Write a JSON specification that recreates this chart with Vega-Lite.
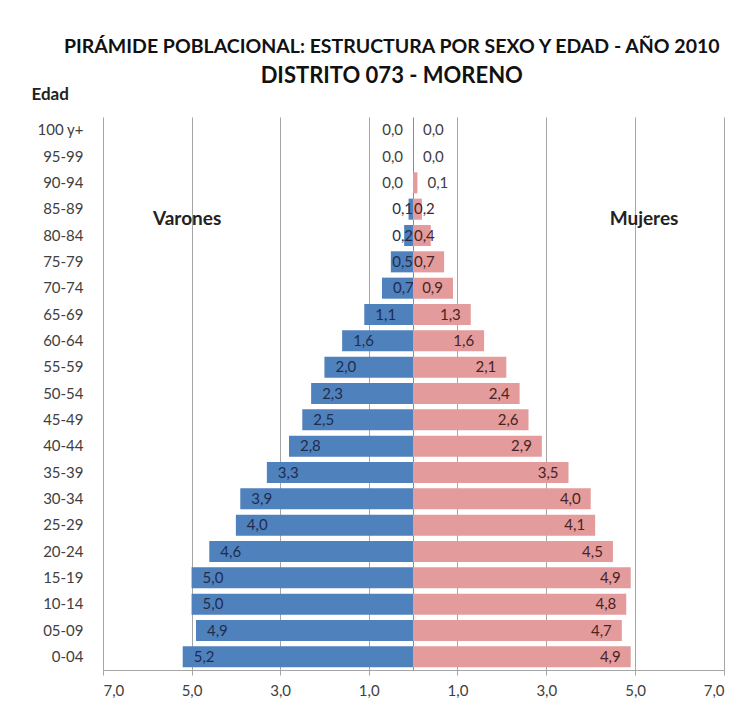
{
  "$schema": "https://vega.github.io/schema/vega-lite/v6.json",
  "padding": {"left": 31, "top": 36, "right": 5, "bottom": 5},
  "title": {
    "text": "PIRÁMIDE POBLACIONAL:  ESTRUCTURA POR SEXO Y EDAD - AÑO 2010",
    "subtitle": "DISTRITO 073 - MORENO",
    "font": "Lato", "fontSize": 19.5, "fontWeight": "bold", "color": "#111111",
    "subtitleFont": "Lato", "subtitleFontSize": 22, "subtitleFontWeight": "bold", "subtitleColor": "#111111",
    "subtitlePadding": 9, "anchor": "middle", "offset": -3, "dx": 14
  },
  "data": {"values": [
    {"edad": "100 y+", "sexo": "Varones", "valor": 0.0}, {"edad": "100 y+", "sexo": "Mujeres", "valor": 0.0},
    {"edad": "95-99", "sexo": "Varones", "valor": 0.0}, {"edad": "95-99", "sexo": "Mujeres", "valor": 0.0},
    {"edad": "90-94", "sexo": "Varones", "valor": 0.0}, {"edad": "90-94", "sexo": "Mujeres", "valor": 0.1},
    {"edad": "85-89", "sexo": "Varones", "valor": 0.1}, {"edad": "85-89", "sexo": "Mujeres", "valor": 0.2},
    {"edad": "80-84", "sexo": "Varones", "valor": 0.2}, {"edad": "80-84", "sexo": "Mujeres", "valor": 0.4},
    {"edad": "75-79", "sexo": "Varones", "valor": 0.5}, {"edad": "75-79", "sexo": "Mujeres", "valor": 0.7},
    {"edad": "70-74", "sexo": "Varones", "valor": 0.7}, {"edad": "70-74", "sexo": "Mujeres", "valor": 0.9},
    {"edad": "65-69", "sexo": "Varones", "valor": 1.1}, {"edad": "65-69", "sexo": "Mujeres", "valor": 1.3},
    {"edad": "60-64", "sexo": "Varones", "valor": 1.6}, {"edad": "60-64", "sexo": "Mujeres", "valor": 1.6},
    {"edad": "55-59", "sexo": "Varones", "valor": 2.0}, {"edad": "55-59", "sexo": "Mujeres", "valor": 2.1},
    {"edad": "50-54", "sexo": "Varones", "valor": 2.3}, {"edad": "50-54", "sexo": "Mujeres", "valor": 2.4},
    {"edad": "45-49", "sexo": "Varones", "valor": 2.5}, {"edad": "45-49", "sexo": "Mujeres", "valor": 2.6},
    {"edad": "40-44", "sexo": "Varones", "valor": 2.8}, {"edad": "40-44", "sexo": "Mujeres", "valor": 2.9},
    {"edad": "35-39", "sexo": "Varones", "valor": 3.3}, {"edad": "35-39", "sexo": "Mujeres", "valor": 3.5},
    {"edad": "30-34", "sexo": "Varones", "valor": 3.9}, {"edad": "30-34", "sexo": "Mujeres", "valor": 4.0},
    {"edad": "25-29", "sexo": "Varones", "valor": 4.0}, {"edad": "25-29", "sexo": "Mujeres", "valor": 4.1},
    {"edad": "20-24", "sexo": "Varones", "valor": 4.6}, {"edad": "20-24", "sexo": "Mujeres", "valor": 4.5},
    {"edad": "15-19", "sexo": "Varones", "valor": 5.0}, {"edad": "15-19", "sexo": "Mujeres", "valor": 4.9},
    {"edad": "10-14", "sexo": "Varones", "valor": 5.0}, {"edad": "10-14", "sexo": "Mujeres", "valor": 4.8},
    {"edad": "05-09", "sexo": "Varones", "valor": 4.9}, {"edad": "05-09", "sexo": "Mujeres", "valor": 4.7},
    {"edad": "0-04", "sexo": "Varones", "valor": 5.2}, {"edad": "0-04", "sexo": "Mujeres", "valor": 4.9}
  ]},
  "spacing": 0,
  "bounds": "flush",
  "hconcat": [
    {
      "width": 310, "height": 553,
      "transform": [{"filter": {"field": "sexo", "equal": "Varones"}}],
      "encoding": {
        "y": {"field": "edad", "type": "nominal", "sort": null,
          "scale": {"paddingInner": 0.2, "paddingOuter": 0.1},
          "axis": {"title": "Edad", "titleAngle": 0, "titleX": -72, "titleY": -18, "titleAlign": "left", "titleBaseline": "alphabetic",
            "titleFont": "Lato", "titleFontSize": 17, "titleFontWeight": "bold", "titleColor": "#222222",
            "labelFont": "Lato", "labelFontSize": 15, "labelColor": "#404040", "labelPadding": 20,
            "ticks": false, "domain": false, "grid": false}}
      },
      "layer": [
        {"mark": {"type": "bar", "color": "#4F81BD"},
         "encoding": {"x": {"field": "valor", "type": "quantitative", "scale": {"domain": [0, 7], "reverse": true},
           "axis": {"values": [1, 3, 5, 7], "format": ".1f", "title": null}}}},
        {"transform": [{"filter": {"not": {"field": "edad", "oneOf": ["100 y+", "95-99", "90-94", "85-89", "80-84", "75-79"]}}}],
         "mark": {"type": "text", "align": "left", "baseline": "middle", "dx": 11, "font": "Lato", "fontSize": 15, "color": "#1F2D4D"},
         "encoding": {"x": {"field": "valor", "type": "quantitative"}, "text": {"field": "valor", "type": "quantitative", "format": ".1f"}}},
        {"transform": [{"filter": {"field": "edad", "oneOf": ["85-89", "80-84", "75-79"]}}],
         "mark": {"type": "text", "align": "right", "baseline": "middle", "dx": 0, "font": "Lato", "fontSize": 15, "color": "#1F2D4D"},
         "encoding": {"x": {"datum": 0, "type": "quantitative"}, "text": {"field": "valor", "type": "quantitative", "format": ".1f"}}},
        {"transform": [{"filter": {"field": "edad", "oneOf": ["100 y+", "95-99", "90-94"]}}],
         "mark": {"type": "text", "align": "right", "baseline": "middle", "dx": -10, "font": "Lato", "fontSize": 15, "color": "#404040"},
         "encoding": {"x": {"field": "valor", "type": "quantitative"}, "text": {"field": "valor", "type": "quantitative", "format": ".1f"}}},
        {"transform": [{"filter": {"field": "edad", "equal": "85-89"}}],
         "mark": {"type": "text", "text": "Varones", "align": "center", "baseline": "middle", "dy": 10, "font": "Lato", "fontSize": 19, "fontWeight": "bold", "color": "#222222"},
         "encoding": {"x": {"datum": 5.1, "type": "quantitative"}}}
      ]
    },
    {
      "width": 311, "height": 553,
      "transform": [{"filter": {"field": "sexo", "equal": "Mujeres"}}],
      "encoding": {
        "y": {"field": "edad", "type": "nominal", "sort": null,
          "scale": {"paddingInner": 0.2, "paddingOuter": 0.1},
          "axis": {"title": null, "labels": false, "ticks": false, "domain": true, "domainColor": "#8c8c8c", "grid": false, "minExtent": 0, "maxExtent": 0, "zindex": 0}}
      },
      "layer": [
        {"mark": {"type": "bar", "color": "#E39B9C"},
         "encoding": {"x": {"field": "valor", "type": "quantitative", "scale": {"domain": [0, 7]},
           "axis": {"values": [1, 3, 5, 7], "format": ".1f", "title": null}}}},
        {"transform": [{"filter": {"not": {"field": "edad", "oneOf": ["100 y+", "95-99", "90-94", "85-89", "80-84", "75-79"]}}}],
         "mark": {"type": "text", "align": "right", "baseline": "middle", "dx": -10, "font": "Lato", "fontSize": 15, "color": "#4A2323"},
         "encoding": {"x": {"field": "valor", "type": "quantitative"}, "text": {"field": "valor", "type": "quantitative", "format": ".1f"}}},
        {"transform": [{"filter": {"field": "edad", "oneOf": ["85-89", "80-84", "75-79"]}}],
         "mark": {"type": "text", "align": "left", "baseline": "middle", "dx": 1, "font": "Lato", "fontSize": 15, "color": "#4A2323"},
         "encoding": {"x": {"datum": 0, "type": "quantitative"}, "text": {"field": "valor", "type": "quantitative", "format": ".1f"}}},
        {"transform": [{"filter": {"field": "edad", "oneOf": ["100 y+", "95-99", "90-94"]}}],
         "mark": {"type": "text", "align": "left", "baseline": "middle", "dx": 10, "font": "Lato", "fontSize": 15, "color": "#404040"},
         "encoding": {"x": {"field": "valor", "type": "quantitative"}, "text": {"field": "valor", "type": "quantitative", "format": ".1f"}}},
        {"transform": [{"filter": {"field": "edad", "equal": "85-89"}}],
         "mark": {"type": "text", "text": "Mujeres", "align": "center", "baseline": "middle", "dy": 10, "font": "Lato", "fontSize": 19, "fontWeight": "bold", "color": "#222222"},
         "encoding": {"x": {"datum": 5.2, "type": "quantitative"}}}
      ]
    }
  ],
  "config": {
    "locale": {"number": {"decimal": ",", "thousands": ".", "grouping": [3], "currency": ["$", ""]}},
    "font": "Lato",
    "view": {"stroke": null},
    "axisX": {"grid": true, "gridColor": "#a6a6a6", "gridWidth": 1, "domainColor": "#a6a6a6", "tickColor": "#a6a6a6", "tickSize": 5,
      "labelFont": "Lato", "labelFontSize": 15, "labelColor": "#404040", "labelPadding": 8}
  }
}
